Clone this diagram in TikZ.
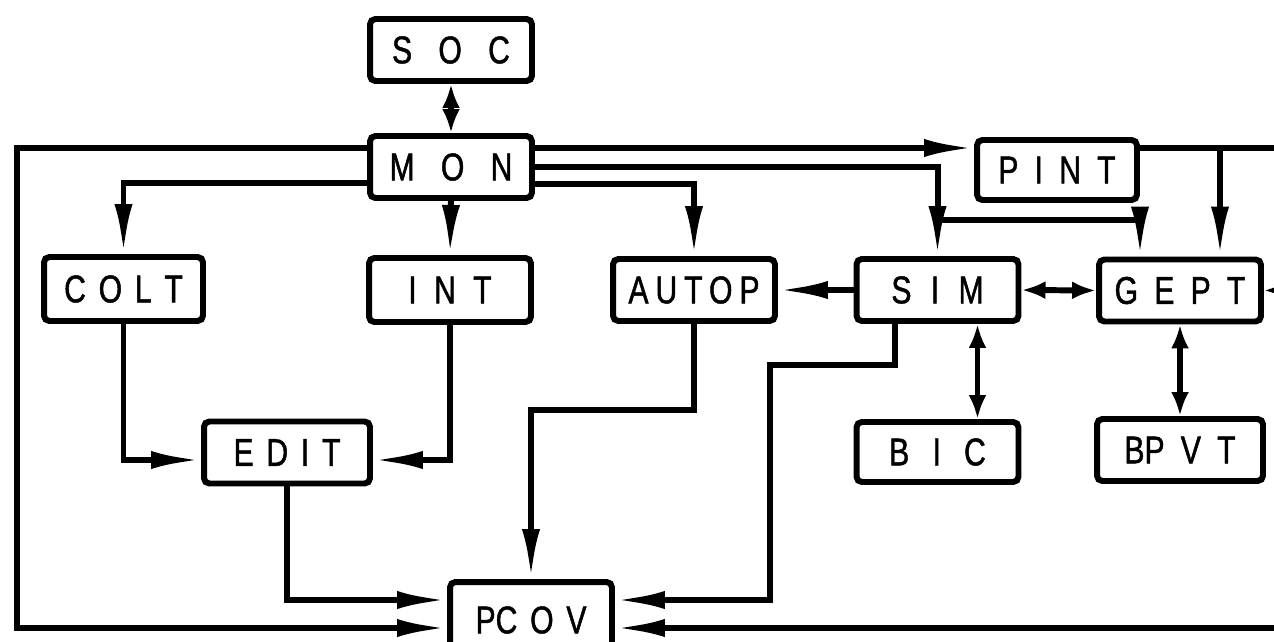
\documentclass[tikz,border=0pt]{standalone}
\usepackage{fontspec}
\usepackage{tikz}
\usetikzlibrary{arrows.meta, positioning}
\newfontfamily\lblfont[FakeStretch=0.78,FakeBold=1.2]{Liberation Sans}
\newfontfamily\lblfontwide[FakeStretch=0.78,FakeBold=1.2,LetterSpace=18]{Liberation Sans}

\tikzset{
  module/.style={draw, line width=3.4pt, rounded corners=3pt, inner sep=0pt,
    minimum width=3.24cm, minimum height=1.24cm,
    font=\lblfont\fontsize{22pt}{26pt}\selectfont,
    execute at begin node={\spaceskip=#1\relax}},
  module/.default=0.45em,
  wire/.style={line width=3.4pt},
  link/.style={wire, -{Latex[length=1cm,width=0.36cm]}},
  stub/.style={wire, -{Latex[length=0.5cm,width=0.4cm]}},
  both/.style={wire, {Latex[length=0.48cm,width=0.36cm]}-{Latex[length=0.48cm,width=0.36cm]}}
}

\begin{document}
\begin{tikzpicture}[x=0.02cm, y=-0.02cm]
  \useasboundingbox (0,0) rectangle (1274,642);

  \node[module=0.68em] (SOC) at (451,50) {S O C};
  \node[module=0.68em] (MON) at (451,167) {M O N};
  \node[module=0.33em, minimum width=3.18cm, minimum height=1.28cm] (COLT) at (123.5,289) {C O L T};
  \node[module=0.45em, minimum height=1.28cm] (INT) at (450,290) {I N T};
  \node[module, font=\lblfontwide\fontsize{22pt}{26pt}\selectfont] (AUTOP) at (694,290) {AUTOP};
  \node[module=0.5em] (SIM) at (937.5,290) {S I M};
  \node[module=0.42em] (GEPT) at (1180,290.5) {G E P T};
  \node[module=0.42em, minimum width=3.2cm, minimum height=1.2cm] (PINT) at (1057,170) {P I N T};
  \node[module=0.33em, minimum width=3.32cm] (EDIT) at (287,452.5) {E D I T};
  \node[module=0.6em, minimum height=1.2cm] (BIC) at (937.5,452) {B I C};
  \node[module=0.42em, minimum width=3.32cm] (BPVT) at (1180,450) {BP V T};
  \node[module=0.33em, minimum height=1.52cm] (PCOV) at (531,620) {PC O V};

  % taps on the sides of the boxes
  \coordinate (mw1) at ([yshift=0.38cm]MON.west);
  \coordinate (mw2) at ([yshift=-0.32cm]MON.west);
  \coordinate (me1) at ([yshift=0.38cm]MON.east);
  \coordinate (me2) at (MON.east);
  \coordinate (me3) at ([yshift=-0.34cm]MON.east);
  \coordinate (ew) at ([yshift=-0.15cm]EDIT.west);
  \coordinate (ee) at ([yshift=-0.15cm]EDIT.east);
  \coordinate (pw) at ([yshift=0.4cm]PCOV.west);
  \coordinate (pe2) at ([yshift=0.4cm]PCOV.east);
  \coordinate (pe) at ([yshift=0.44cm]PINT.east);
  \coordinate (gn1) at ([xshift=-0.8cm]GEPT.north);
  \coordinate (gn2) at ([xshift=0.8cm]GEPT.north);
  \coordinate (ss) at ([xshift=-0.85cm]SIM.south);
  \coordinate (lp) at (17,628);
  \coordinate (sb) at (937.5,220);
  \coordinate (ap) at (600,410);
  \coordinate (sl) at (770,365);
  \coordinate (rr) at (1300,290);
  \coordinate (ro) at (1300,628);

  \draw[both] (SOC.south) -- (MON.north);
  \draw[link] (mw1) -| (lp) -- (lp -| PCOV.west);
  \draw[link] (mw2) -| (COLT.north);
  \draw[link] (MON.south) -- (INT.north);
  \draw[link] (COLT.south) |- (ew);
  \draw[link] (INT.south) |- (ee);
  \draw[link] (EDIT.south) |- (pw);
  \draw[link] (me1) -- (me1 -| PINT.west);
  \draw[link] (me2) -| (SIM.north);
  \draw[link] (sb) -| (gn1);
  \draw[link] (me3) -| (AUTOP.north);
  \draw[stub] (pe) -| (rr) -- (GEPT.east);
  \draw[link] (pe -| gn2) -- (gn2);
  \draw[link] (SIM.west) -- (AUTOP.east);
  \draw[both] (SIM.east) -- (GEPT.west);
  \draw[both] ([xshift=0.8cm]BIC.north) -- ([xshift=0.8cm]SIM.south);
  \draw[both] (BPVT.north) -- (GEPT.south);
  \draw[link] (AUTOP.south) -- (AUTOP.south |- ap) -| (PCOV.north);
  \draw[link] (ss) |- (sl) |- (pe2);
  \draw[link] (ro) -- (ro -| PCOV.east);
\end{tikzpicture}
\end{document}
